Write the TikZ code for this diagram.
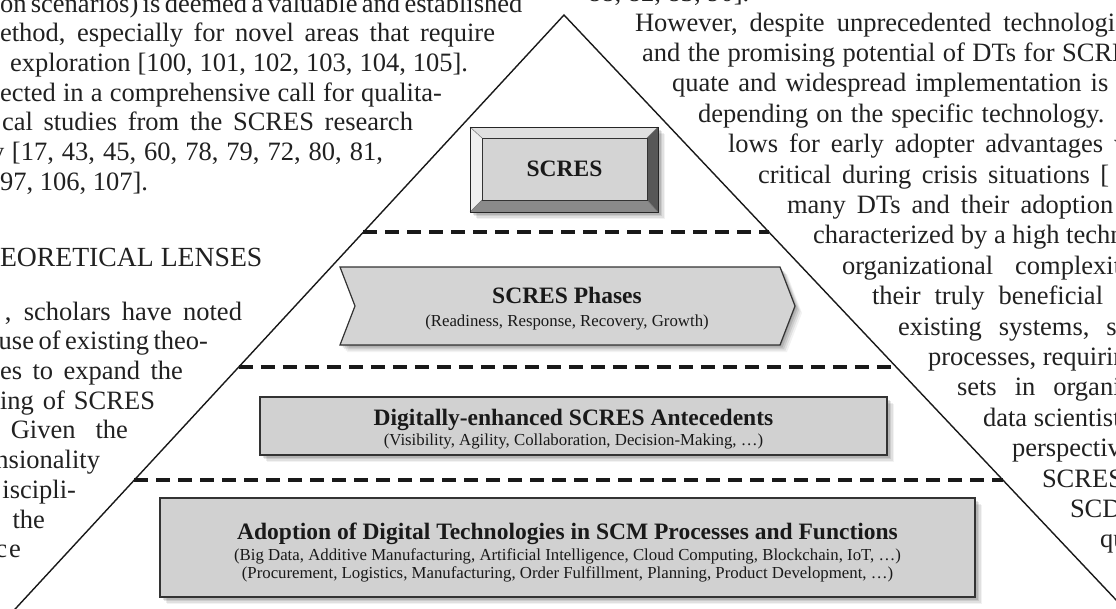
\documentclass[tikz,border=0pt]{standalone}
\usepackage{fontspec}
\setmainfont{Liberation Serif}
\usetikzlibrary{calc}
% justified line of the running text: width in pt, then the words
\newcommand\jline[2]{\makebox[#1pt][s]{#2}}
\begin{document}
\begin{tikzpicture}[x=1pt,y=-1pt,
  pagetext/.style={inner sep=0pt, outer sep=0pt, text=black!87,
    font=\fontsize{26.5}{30}\selectfont},
  lline/.style={pagetext, anchor=base west},
  eline/.style={pagetext, anchor=base east},
  dashline/.style={line width=3.2pt, dash pattern=on 14pt off 8pt, black!90},
  boxfill/.style={fill=black!18, draw=black!80, line width=1.2pt, inner sep=0pt},
  title/.style={inner sep=0pt, anchor=base, text=black!90,
    font=\fontsize{23.5}{26}\selectfont\bfseries},
  sub/.style={inner sep=0pt, anchor=base, text=black!90,
    font=\fontsize{16.8}{19}\selectfont},
  shade/.style={black, opacity=#1},
]
\useasboundingbox (0,0) rectangle (1116,608);
\clip (0,0) rectangle (1116,608);
\fill[white] (0,0) rectangle (1116,608);

% ---- running text of the page, left column
\node[lline] (l1) at (0,12) {\spaceskip=4.4pt\relax on scenarios) is deemed a valuable and established};
\node[lline] (l2) at (0,41.7) {\jline{495}{ethod, especially for novel areas that require}};
\node[lline] (l3) at (10,71.4) {\jline{458}{exploration [100, 101, 102, 103, 104, 105].}};
\node[lline] (l4) at (0,101) {\jline{442}{ected in a comprehensive call for qualita-}};
\node[lline] (l5) at (2,130.8) {\jline{411}{cal studies from the SCRES research}};
\node[lline] (l6) at (-9,160.5) {\jline{392}{y [17, 43, 45, 60, 78, 79, 72, 80, 81,}};
\node[lline] (l7) at (0,190.2) {97, 106, 107].};
\node[lline, font=\fontsize{27.7}{30}\selectfont] (l8) at (0,266) {EORETICAL LENSES};
\node[lline] (l9) at (5,320) {\jline{237}{, scholars have noted}};
\node[eline] (l10) at (208,349.7) {\spaceskip=4.5pt\relax use of existing theo-};
\node[lline] (l11) at (0,379.4) {\jline{183}{es to expand the}};
\node[lline] (l12) at (0,409) {\jline{155}{ing of SCRES}};
\node[eline] (l13) at (128,438.8) {\spaceskip=20pt\relax Given the};
\node[eline] (l14) at (100,468.5) {nsionality};
\node[eline] (l15) at (76,498) {iscipli-};
\node[eline] (l16) at (45,528) {the};
\node[eline] (l17) at (21,557.6) {\spaceskip=2pt\relax c e};

% ---- running text of the page, right column
\node[lline] (r0) at (588,1) {88, 82, 83, 90].};
\node[lline] (r1) at (635,31) {\spaceskip=12pt\relax However, despite unprecedented technological};
\node[lline] (r2) at (642,61.4) {\spaceskip=7.5pt\relax and the promising potential of DTs for SCRES};
\node[lline] (r3) at (672,91.8) {\spaceskip=9pt\relax quate and widespread implementation is};
\node[lline] (r4) at (698,122.2) {\spaceskip=8pt\relax depending on the specific technology.};
\node[lline] (r5) at (728,152.6) {\spaceskip=11pt\relax lows for early adopter advantages which};
\node[lline] (r6) at (758,183) {\spaceskip=10.5pt\relax critical during crisis situations [};
\node[lline] (r7) at (787,213.4) {\spaceskip=11pt\relax many DTs and their adoption};
\node[lline] (r8) at (813,243.8) {characterized by a high technical};
\node[lline] (r9) at (842,274.2) {\spaceskip=22pt\relax organizational complexity};
\node[lline] (r10) at (872,304.6) {\spaceskip=14pt\relax their truly beneficial in};
\node[lline] (r11) at (898,335) {\spaceskip=17pt\relax existing systems, st};
\node[lline] (r12) at (928,365.4) {processes, requiring};
\node[lline] (r13) at (957,395.8) {\spaceskip=18pt\relax sets in organi};
\node[lline] (r14) at (983,426.2) {data scientists};
\node[lline] (r15) at (1012,456.6) {perspective};
\node[lline] (r16) at (1042,487) {SCRES};
\node[lline] (r17) at (1070,517.4) {SCD};
\node[lline] (r18) at (1100,547.8) {qu};

% ---- pyramid
\coordinate (apex) at (564,15);
\coordinate (bl) at (5,620);
\coordinate (br) at (1135,620);
\fill[white] (apex) -- (bl) -- (br) -- cycle;

% layer separators
\coordinate (d1l) at ($(apex)!0.3587!(bl)$); \coordinate (d1r) at ($(apex)!0.3587!(br)$);
\coordinate (d2l) at ($(apex)!0.5818!(bl)$); \coordinate (d2r) at ($(apex)!0.5818!(br)$);
\coordinate (d3l) at ($(apex)!0.7686!(bl)$); \coordinate (d3r) at ($(apex)!0.7686!(br)$);
\draw[dashline] (d1l) -- (d1r);
\draw[dashline] (d2l) -- (d2r);
\draw[dashline] (d3l) -- (d3r);

% top: bevelled SCRES key
\coordinate (so1) at (470,127); \coordinate (so2) at (658,127);
\coordinate (so3) at (658,212); \coordinate (so4) at (470,212);
\coordinate (si1) at (482,138); \coordinate (si2) at (647,138);
\coordinate (si3) at (647,200); \coordinate (si4) at (482,200);
\foreach \d/\o in {7/0.05,5.5/0.07,4/0.09,2.5/0.11,1/0.12}
  \fill[shade=\o] ($(so1)+(\d,\d)$) rectangle ($(so3)+(\d,\d)$);
\fill[black!12] (so1) -- (so2) -- (si2) -- (si1) -- cycle;
\fill[black!6] (so1) -- (si1) -- (si4) -- (so4) -- cycle;
\fill[black!66] (so2) -- (so3) -- (si3) -- (si2) -- cycle;
\fill[black!46] (so4) -- (so3) -- (si3) -- (si4) -- cycle;
\draw[black!55, line width=0.5pt] (so1) -- (si1) (so2) -- (si2) (so3) -- (si3) (so4) -- (si4);
\draw[black!85, line width=1pt] (so1) rectangle (so3);
\node[fill=black!17, draw=black!80, line width=0.8pt, inner sep=0pt,
  minimum width=165pt, minimum height=62pt,
  font=\fontsize{23.5}{26}\selectfont\bfseries, text=black!90] (scres) at (564.5,169) {SCRES};

% second layer: phases chevron
\coordinate (p1) at (340,267); \coordinate (p2) at (780,267);
\coordinate (p3) at (795,306); \coordinate (p4) at (780,345);
\coordinate (p5) at (340,345); \coordinate (p6) at (355,306);
\foreach \d/\o in {7/0.05,5.5/0.07,4/0.09,2.5/0.11,1/0.12}
  \fill[shade=\o] ($(p1)+(\d,\d)$) -- ($(p2)+(\d,\d)$) -- ($(p3)+(\d,\d)$) -- ($(p4)+(\d,\d)$)
    -- ($(p5)+(\d,\d)$) -- ($(p6)+(\d,\d)$) -- cycle;
\draw[fill=black!17, draw=black!80, line width=1.2pt, line join=miter]
  (p1) -- (p2) -- (p3) -- (p4) -- (p5) -- (p6) -- cycle;
\node[title] (phT) at (567,303) {SCRES Phases};
\node[sub] (phS) at (567,326) {(Readiness, Response, Recovery, Growth)};

% third layer: antecedents
\foreach \d/\o in {7/0.05,5.5/0.07,4/0.09,2.5/0.11,1/0.12}
  \fill[shade=\o] (260+\d,397+\d) rectangle (887+\d,455+\d);
\node[boxfill, minimum width=627pt, minimum height=58pt] (ante) at (573.5,426) {};
\node[title] (anT) at (573.5,425) {Digitally-enhanced SCRES Antecedents};
\node[sub] (anS) at (573.5,445) {(Visibility, Agility, Collaboration, Decision-Making, …)};

% base layer: adoption of digital technologies
\foreach \d/\o in {7/0.05,5.5/0.07,4/0.09,2.5/0.11,1/0.12}
  \fill[shade=\o] (160+\d,498+\d) rectangle (975+\d,597+\d);
\node[boxfill, minimum width=815pt, minimum height=99pt] (adopt) at (567.5,547.5) {};
\node[title] (adT) at (567.5,539) {Adoption of Digital Technologies in SCM Processes and Functions};
\node[sub] (adS1) at (567.5,560) {(Big Data, Additive Manufacturing, Artificial Intelligence, Cloud Computing, Blockchain, IoT, …)};
\node[sub] (adS2) at (567.5,578) {(Procurement, Logistics, Manufacturing, Order Fulfillment, Planning, Product Development, …)};

% pyramid outline
\draw[black!90, line width=1.4pt, line join=miter] (bl) -- (apex) -- (br);
\end{tikzpicture}
\end{document}
